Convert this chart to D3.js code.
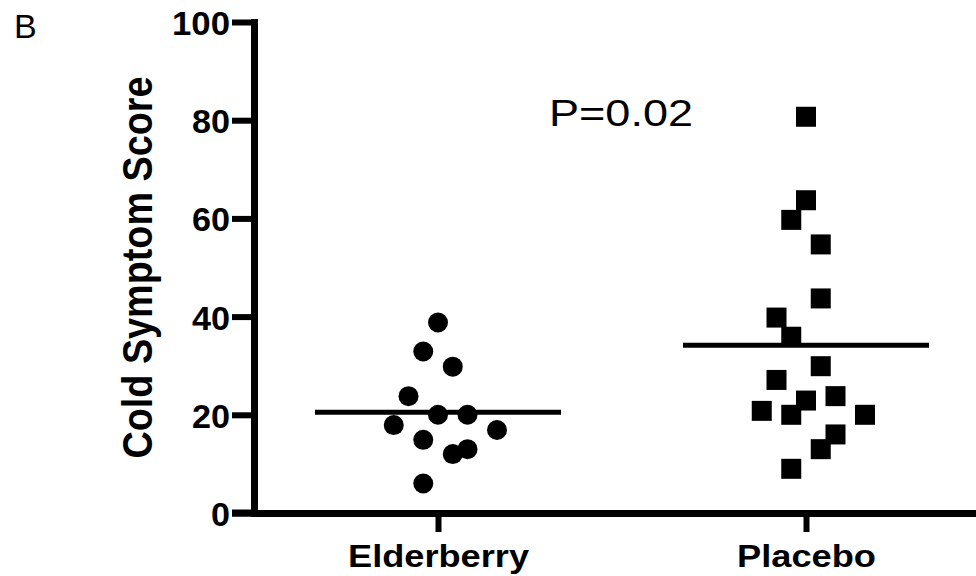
<!DOCTYPE html>
<html>
<head>
<meta charset="utf-8">
<script src="https://cdn.jsdelivr.net/npm/d3@7"></script>
<style>
  body { margin: 0; background: #fff; }
  svg { display: block; font-family: "Liberation Sans", Arial, sans-serif; }
</style>
</head>
<body>
<div id="chart"></div>
<script>
// groups and scores
const groups = ["Elderberry", "Placebo"];
const elderberryScores = [38.8, 32.9, 29.8, 23.8, 20, 20, 17.9, 16.9, 14.9, 13, 12, 6];
const elderberryJitter = [0, -1, 1, -2, 0, 2, -3, 4, -1, 2, 1, -1];
const placeboScores = [80.7, 63.7, 59.7, 54.7, 43.7, 39.8, 35.9, 29.9, 27.1, 23.8, 22.9, 20.8, 20, 20, 16, 13, 9];
const placeboJitter = [0, 0, -1, 1, 1, -2, -1, 1, -2, 2, 0, -3, -1, 4, 2, 1, -1];
const yTicks = [0, 20, 40, 60, 80, 100];
const tickLabelWidths = { 0: 19, 20: 38, 40: 38, 60: 38, 80: 38, 100: 58 };

const width = 976, height = 576;
const svg = d3.select("#chart").append("svg")
  .attr("width", width).attr("height", height);

const x = d3.scalePoint().domain(groups).range([254, 990]).padding(0.5);
const y = d3.scaleLinear().domain([0, 100]).range([513, 22]);
const jit = d3.scaleLinear().domain([-4, 4]).range([-59, 59]);

// y axis
const yAxis = svg.append("g")
  .attr("transform", "translate(254,0)")
  .call(d3.axisLeft(y).tickValues(yTicks).tickSize(22).tickSizeOuter(0).tickFormat(""));
yAxis.select(".domain").attr("stroke", "#000").attr("stroke-width", 7).attr("stroke-linecap", "square");
yAxis.selectAll(".tick line").attr("stroke", "#000").attr("stroke-width", 6);

yAxis.selectAll(".tick").append("text")
  .attr("x", -24).attr("dy", 12.5)
  .attr("text-anchor", "end")
  .attr("fill", "#000")
  .attr("font-size", 34).attr("font-weight", "bold")
  .attr("textLength", d => tickLabelWidths[d])
  .attr("lengthAdjust", "spacingAndGlyphs")
  .text(d => d);

// x axis
const xAxis = svg.append("g")
  .attr("transform", "translate(0,513)")
  .call(d3.axisBottom(x).tickSize(19).tickSizeOuter(0).tickFormat(""));
xAxis.select(".domain").attr("stroke", "#000").attr("stroke-width", 7);
xAxis.selectAll(".tick line").attr("stroke", "#000").attr("stroke-width", 6);
svg.append("line")
  .attr("x1", 232).attr("x2", 254).attr("y1", 513).attr("y2", 513)
  .attr("stroke", "#000").attr("stroke-width", 7);

const xLabelWidths = { Elderberry: 181, Placebo: 139 };
xAxis.selectAll(".tick").append("text")
  .attr("y", 54)
  .attr("text-anchor", "middle")
  .attr("fill", "#000")
  .attr("font-size", 32).attr("font-weight", "bold")
  .attr("textLength", d => xLabelWidths[d])
  .attr("lengthAdjust", "spacingAndGlyphs")
  .text(d => d);

// y label
svg.append("text")
  .attr("transform", `translate(152,${y(50)}) rotate(-90)`)
  .attr("text-anchor", "middle")
  .attr("font-size", 42).attr("font-weight", "bold")
  .attr("textLength", 382).attr("lengthAdjust", "spacingAndGlyphs")
  .text("Cold Symptom Score");

// panel letter and p value
svg.append("text").attr("x", 14).attr("y", 38)
  .attr("font-size", 34).text("B");
svg.append("text").attr("x", 549).attr("y", 126)
  .attr("font-size", 37)
  .attr("textLength", 144).attr("lengthAdjust", "spacingAndGlyphs")
  .text("P=0.02");

// points
const elder = elderberryScores.map((v, i) => ({ v, j: elderberryJitter[i] }));
const placebo = placeboScores.map((v, i) => ({ v, j: placeboJitter[i] }));

svg.append("g").selectAll("circle")
  .data(elder).enter().append("circle")
  .attr("cx", d => x("Elderberry") + jit(d.j))
  .attr("cy", d => y(d.v))
  .attr("r", 10)
  .attr("fill", "#000");

svg.append("g").selectAll("path")
  .data(placebo).enter().append("path")
  .attr("d", d3.symbol(d3.symbolSquare, 400))
  .attr("transform", d => `translate(${x("Placebo") + jit(d.j)},${y(d.v)})`)
  .attr("fill", "#000");

// mean lines
const means = [
  { g: "Elderberry", m: d3.mean(elderberryScores) },
  { g: "Placebo", m: d3.mean(placeboScores) }
];
svg.append("g").selectAll("line")
  .data(means).enter().append("line")
  .attr("x1", d => x(d.g) - 123).attr("x2", d => x(d.g) + 123)
  .attr("y1", d => y(d.m)).attr("y2", d => y(d.m))
  .attr("stroke", "#000").attr("stroke-width", 5);
</script>
</body>
</html>
